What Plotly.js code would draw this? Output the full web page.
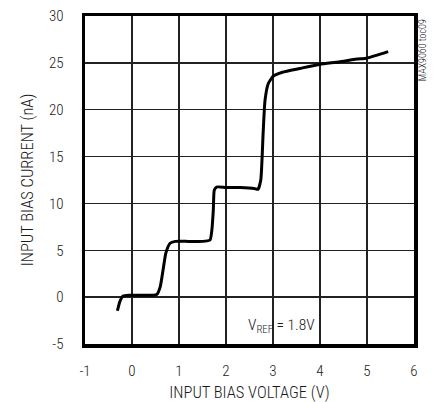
<!DOCTYPE html>
<html>
<head>
<meta charset="utf-8">
<script src="https://cdn.plot.ly/plotly-3.0.1.min.js"></script>
<style>html,body{margin:0;padding:0;background:#fff;}#chart{width:433px;height:402px;}</style>
</head>
<body>
<div id="chart"></div>
<script>
const biasVoltage = [-0.31, -0.26, -0.19, -0.05, 0.2, 0.45, 0.53, 0.6, 0.67, 0.72, 0.81, 0.92, 1.2, 1.5, 1.66, 1.70, 1.73, 1.75, 1.80, 2.0, 2.3, 2.6, 2.68, 2.74, 2.79, 2.83, 2.90, 3.01, 3.2, 3.57, 4.0, 4.4, 4.78, 4.99, 5.2, 5.45];
const biasCurrent = [-1.45, -0.5, 0.12, 0.2, 0.2, 0.2, 0.3, 1.1, 3.2, 4.7, 5.75, 5.95, 5.95, 5.95, 6.1, 7.2, 9.3, 11.4, 11.75, 11.7, 11.7, 11.6, 11.5, 12.5, 17.5, 21, 22.8, 23.6, 24.0, 24.4, 24.85, 25.1, 25.4, 25.5, 25.8, 26.2];
const xTickVals = [-1, 0, 1, 2, 3, 4, 5, 6];
const xTickText = ["-1", "0", "1", "2", "3", "4", "5", "6"];
const yTickVals = [-5, 0, 5, 10, 15, 20, 25, 30];
const yTickText = ["-5", "0", "5", "10", "15", "20", "25", "30"];

const FONT = "'Roboto Condensed', 'Liberation Sans Narrow', 'Arial Narrow', sans-serif";

const trace = {
  x: biasVoltage, y: biasCurrent, mode: 'lines', type: 'scatter',
  line: {color: '#000', width: 3, shape: 'spline', smoothing: 0.5},
  hoverinfo: 'skip'
};

const axisCommon = {
  showline: true, mirror: true, linecolor: '#000', linewidth: 3.5,
  showgrid: true, gridcolor: '#222', gridwidth: 1.5,
  zeroline: false, ticks: 'outside', tickcolor: 'rgba(0,0,0,0)',
  tickfont: {family: FONT, size: 15, color: '#1a1a1a', weight: 300}
};

const layout = {
  width: 433, height: 402,
  margin: {l: 85, r: 19, t: 16, b: 58},
  paper_bgcolor: '#fff', plot_bgcolor: '#fff',
  showlegend: false,
  xaxis: Object.assign({}, axisCommon, {
    range: [-1, 6], tickmode: 'array', tickvals: xTickVals, ticktext: xTickText,
    ticklen: 10,
    title: {text: 'INPUT BIAS VOLTAGE (V)', standoff: 11, font: {family: FONT, size: 16.5, color: '#1a1a1a', weight: 300}}
  }),
  yaxis: Object.assign({}, axisCommon, {
    range: [-5, 30], tickmode: 'array', tickvals: yTickVals, ticktext: yTickText,
    ticklen: 15,
    title: {text: 'INPUT BIAS CURRENT (nA)', standoff: 12, font: {family: FONT, size: 16.5, color: '#1a1a1a', weight: 300}}
  }),
  annotations: [
    {xref: 'x', yref: 'y', x: 2.42, y: -3.1, xanchor: 'left', yanchor: 'middle',
     text: 'V<sub>REF</sub> = 1.8V', showarrow: false,
     font: {family: FONT, size: 15.5, color: '#1a1a1a', weight: 300}},
    {xref: 'paper', yref: 'paper', x: 1.027, y: 0.895, xanchor: 'center', yanchor: 'middle',
     text: 'MAX9060 toc09', textangle: -90, showarrow: false,
     font: {family: FONT, size: 10, color: '#222', weight: 300}}
  ]
};

Plotly.newPlot('chart', [trace], layout, {staticPlot: true, displayModeBar: false});
</script>
</body>
</html>
